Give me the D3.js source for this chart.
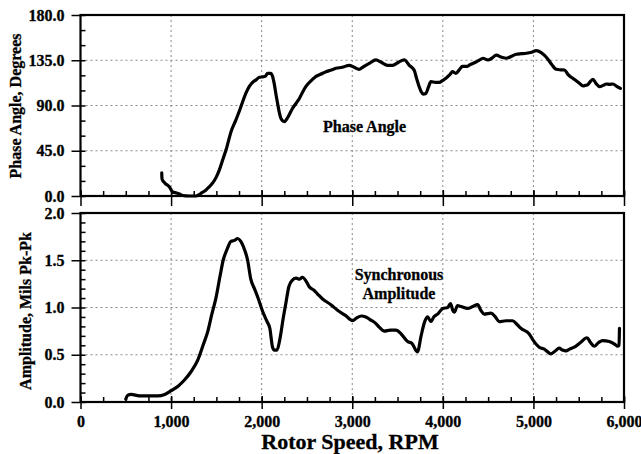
<!DOCTYPE html>
<html>
<head>
<meta charset="utf-8">
<script src="https://cdn.jsdelivr.net/npm/d3@7"></script>
<style>
body { margin: 0; background: #fff; }
svg text { font-family: "Liberation Serif", "Times New Roman", serif; font-weight: bold; fill: #000; stroke: #000; stroke-width: 0.3px; }
.grid line { stroke: #888; stroke-width: 1; stroke-dasharray: 2,3; }
.tick line { stroke: #000; stroke-width: 1.5; }
</style>
</head>
<body>
<div id="graph"></div>
<script>
// values
let xTicks = [0, 1000, 2000, 3000, 4000, 5000, 6000];
let phaseTicks = [0, 45, 90, 135, 180];
let ampTicks = [0, 0.5, 1.0, 1.5, 2.0];

let phaseSpeed = [897,900,930,982,1018,1060,1092,1128,1200,1276,1331,1386,1420,1460,1500,1533,1570,1607,1662,1717,1760,1791,1830,1864,1900,1938,1975,2011,2040,2066,2100,2120,2140,2160,2176,2195,2213,2250,2280,2305,2340,2379,2416,2450,2489,2550,2600,2650,2710,2760,2820,2890,2967,3020,3077,3130,3190,3261,3320,3390,3445,3510,3574,3630,3684,3710,3739,3760,3783,3813,3840,3868,3920,3960,4000,4034,4080,4107,4144,4185,4217,4272,4296,4360,4400,4443,4498,4540,4590,4650,4701,4760,4811,4870,4921,4980,5031,5086,5120,5160,5200,5252,5300,5344,5380,5418,5473,5510,5547,5575,5602,5630,5657,5690,5731,5770,5805,5840,5878,5920,5960];
let phaseAngle = [23,17,13,9,4,3,2,0.5,0,0,2.7,6,9,13,19,26,36,46,64,76,86,94,103,109,113,115.5,118,118.5,119,122,122,119,111,100,92,83,77,74,77,81,87,92,97,103,109,115,119,121,123.6,125,127,128,130,128,126,129,132,135.3,133,130,130,133,135.3,130,125,117,108.7,104,101.4,102,108,113.7,113,113,115,117,121,123.6,122,126,129,129,130.3,133,135,137,135.3,137,140,138,137,139,141,141.5,142,143,144.5,142.6,140,136,131,126,125.5,125.3,121,118,114.7,112,109.4,110,111,114,116,112,108.7,110,111.4,111,111.4,109,107];

let ampSpeed = [500,520,560,650,750,850,930,1000,1080,1145,1220,1293,1360,1403,1450,1495,1540,1575,1620,1660,1700,1735,1770,1800,1845,1880,1920,1960,2010,2060,2090,2120,2140,2170,2200,2240,2268,2300,2340,2380,2420,2450,2490,2525,2580,2620,2673,2764,2838,2920,3004,3050,3100,3150,3200,3250,3300,3353,3420,3482,3540,3611,3660,3700,3720,3760,3800,3832,3869,3900,3942,4000,4053,4085,4110,4126,4163,4200,4274,4330,4384,4420,4457,4531,4580,4622,4696,4770,4820,4862,4954,5000,5064,5120,5193,5240,5285,5320,5359,5400,5451,5520,5591,5630,5671,5720,5764,5837,5900,5930,5945,5950];
let ampValue = [0.03,0.07,0.08,0.065,0.065,0.065,0.08,0.12,0.17,0.23,0.32,0.44,0.62,0.74,0.93,1.1,1.33,1.5,1.62,1.7,1.71,1.73,1.7,1.64,1.5,1.3,1.2,1.1,0.96,0.85,0.78,0.58,0.55,0.55,0.66,0.9,1.05,1.22,1.29,1.31,1.3,1.32,1.28,1.22,1.18,1.14,1.09,1.03,0.97,0.92,0.86,0.89,0.91,0.9,0.87,0.84,0.79,0.75,0.76,0.76,0.72,0.64,0.62,0.55,0.53,0.7,0.85,0.9,0.85,0.9,0.93,0.99,1.0,1.04,0.97,0.95,1.02,1.01,0.99,1.01,1.03,0.97,0.93,0.94,0.9,0.85,0.86,0.86,0.82,0.78,0.72,0.65,0.58,0.56,0.51,0.54,0.57,0.55,0.54,0.56,0.58,0.63,0.68,0.63,0.59,0.63,0.65,0.64,0.61,0.59,0.6,0.78];

let width = 641, height = 454;
let graph, xScale;

function setUpChart() {
	graph = d3.select("div#graph")
		.append("svg")
		.attr("width", width)
		.attr("height", height);

	xScale = d3.scaleLinear()
		.range([80.5, 624])
		.domain([0, 6000]);
}

// one panel: grid, frame, ticks, curve
function drawPanel(top, bottom, yDomain, yTicks, minorStep, speeds, values, showXLabels) {
	let yScale = d3.scaleLinear()
		.range([bottom, top])
		.domain(yDomain);
	let x0 = xScale.range()[0], x1 = xScale.range()[1];

	let grid = graph.append("g").attr("class", "grid");
	grid.selectAll("line.gx")
		.data(xTicks.slice(1, -1))
		.enter()
		.append("line")
		.attr("x1", d => xScale(d))
		.attr("x2", d => xScale(d))
		.attr("y1", top)
		.attr("y2", bottom);
	grid.selectAll("line.gy")
		.data(yTicks.slice(1, -1))
		.enter()
		.append("line")
		.attr("x1", x0)
		.attr("x2", x1)
		.attr("y1", d => yScale(d))
		.attr("y2", d => yScale(d));

	// minor ticks, pointing inward
	let xMinor = d3.range(0, 6001, 250);
	graph.append("g")
		.attr("transform", `translate(0, ${bottom})`)
		.call(d3.axisBottom(xScale).tickValues(xMinor).tickSize(-5).tickFormat(""))
		.call(g => g.select(".domain").remove());

	let yMinor = d3.range(yDomain[0], yDomain[1] + minorStep / 2, minorStep);
	graph.append("g")
		.attr("transform", `translate(${x0}, 0)`)
		.call(d3.axisLeft(yScale).tickValues(yMinor).tickSize(-5).tickFormat(""))
		.call(g => g.select(".domain").remove());

	// major x ticks cross the axis line
	graph.append("g")
		.attr("transform", `translate(0, ${bottom})`)
		.call(d3.axisBottom(xScale).tickValues(xTicks).tickSize(-6).tickFormat(""))
		.call(g => g.select(".domain").remove());

	let xAxis = d3.axisBottom(xScale)
		.tickValues(xTicks)
		.tickSizeInner(showXLabels ? 7 : 10)
		.tickSizeOuter(0)
		.tickPadding(7)
		.tickFormat(showXLabels ? d3.format(",") : "");
	graph.append("g")
		.attr("class", "x axis")
		.attr("transform", `translate(0, ${bottom})`)
		.call(xAxis)
		.call(g => g.select(".domain").remove())
		.selectAll("text")
		.style("font-size", "16px");

	let yAxis = d3.axisLeft(yScale)
		.tickValues(yTicks)
		.tickSizeInner(9)
		.tickSizeOuter(0)
		.tickPadding(7)
		.tickFormat(d3.format(".1f"));
	graph.append("g")
		.attr("class", "y axis")
		.attr("transform", `translate(${x0}, 0)`)
		.call(yAxis)
		.call(g => g.select(".domain").remove())
		.selectAll("text")
		.style("font-size", "16px");

	// frame
	graph.append("rect")
		.attr("x", x0)
		.attr("y", top)
		.attr("width", x1 - x0)
		.attr("height", bottom - top)
		.attr("fill", "none")
		.attr("stroke", "#000")
		.attr("stroke-width", 2.2);

	let line = d3.line()
		.x((d, i) => xScale(speeds[i]))
		.y(d => yScale(d))
		.curve(d3.curveMonotoneX);

	graph.append("path")
		.datum(values)
		.attr("d", line)
		.attr("fill", "none")
		.attr("stroke", "#000")
		.attr("stroke-width", 3.2)
		.attr("stroke-linejoin", "round")
		.attr("stroke-linecap", "round");

	return yScale;
}

function drawLabels() {
	graph.append("text")
		.attr("transform", "translate(21, 106) rotate(-90)")
		.attr("text-anchor", "middle")
		.style("font-size", "16px")
		.text("Phase Angle, Degrees");

	graph.append("text")
		.attr("transform", "translate(31, 311) rotate(-90)")
		.attr("text-anchor", "middle")
		.style("font-size", "16px")
		.text("Amplitude, Mils Pk-Pk");

	graph.append("text")
		.attr("x", 350)
		.attr("y", 449)
		.attr("text-anchor", "middle")
		.style("font-size", "22px")
		.text("Rotor Speed, RPM");

	graph.append("text")
		.attr("x", 323)
		.attr("y", 132)
		.style("font-size", "16px")
		.text("Phase Angle");

	graph.append("text")
		.attr("x", 399)
		.attr("y", 280)
		.attr("text-anchor", "middle")
		.style("font-size", "16px")
		.text("Synchronous");

	graph.append("text")
		.attr("x", 399)
		.attr("y", 299)
		.attr("text-anchor", "middle")
		.style("font-size", "16px")
		.text("Amplitude");
}

setUpChart();
drawPanel(15, 196, [0, 180], phaseTicks, 15, phaseSpeed, phaseAngle, false);
drawPanel(213, 402, [0, 2], ampTicks, 0.1, ampSpeed, ampValue, true);
drawLabels();
</script>
</body>
</html>
